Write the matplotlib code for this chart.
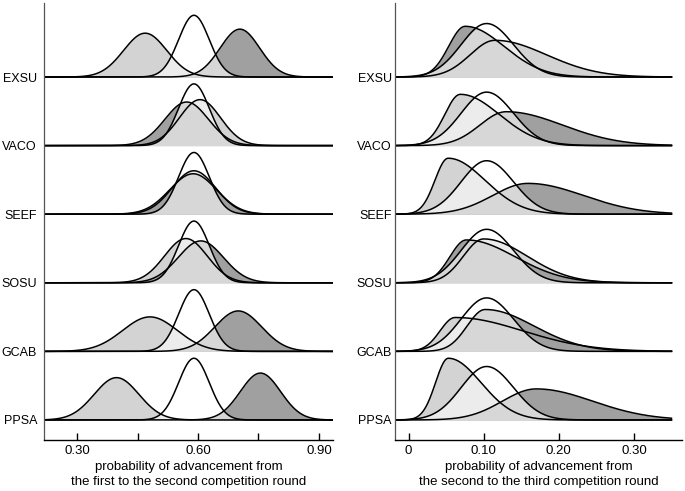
import math

import matplotlib
matplotlib.use("Agg")
import matplotlib.pyplot as plt
import numpy as np

plt.rcParams["font.family"] = ["Liberation Sans", "DejaVu Sans"]
plt.rcParams["font.size"] = 9.5

SITES = ["EXSU", "VACO", "SEEF", "SOSU", "GCAB", "PPSA"]

# first -> second round: normal densities (mean, sd) per site
R1_WHITE_MEAN = [0.59, 0.59, 0.59, 0.59, 0.59, 0.59]
R1_WHITE_SD = [0.038, 0.038, 0.038, 0.038, 0.038, 0.038]
R1_LIGHT_MEAN = [0.469, 0.605, 0.590, 0.570, 0.481, 0.398]
R1_LIGHT_SD = [0.0535, 0.051, 0.054, 0.053, 0.068, 0.0554]
R1_DARK_MEAN = [0.704, 0.572, 0.588, 0.607, 0.700, 0.755]
R1_DARK_SD = [0.049, 0.0538, 0.058, 0.056, 0.058, 0.050]

# second -> third round: skewed densities (mode, left spread, right spread)
R2_WHITE_MODE = [0.104, 0.104, 0.104, 0.104, 0.104, 0.104]
R2_WHITE_SL = [0.034, 0.034, 0.034, 0.034, 0.034, 0.034]
R2_WHITE_SR = [0.0357, 0.0357, 0.0357, 0.0357, 0.0357, 0.0357]
R2_LIGHT_MODE = [0.115, 0.069, 0.0528, 0.100, 0.062, 0.053]
R2_LIGHT_SL = [0.033, 0.0208, 0.0176, 0.027, 0.020, 0.017]
R2_LIGHT_SR = [0.0686, 0.0519, 0.049, 0.058, 0.090, 0.0434]
R2_DARK_MODE = [0.0755, 0.130, 0.159, 0.077, 0.102, 0.170]
R2_DARK_SL = [0.022, 0.035, 0.047, 0.022, 0.024, 0.045]
R2_DARK_SR = [0.0515, 0.075, 0.074, 0.065, 0.065, 0.075]

LIGHT = "#d3d3d3"
DARK = "#a0a0a0"


def normal_pdf(x, mean, sd):
    return np.exp(-0.5 * ((x - mean) / sd) ** 2) / (sd * math.sqrt(2 * math.pi))


def split_normal_pdf(x, mode, s_left, s_right):
    s = np.where(x < mode, s_left, s_right)
    return 2 / (math.sqrt(2 * math.pi) * (s_left + s_right)) * np.exp(-0.5 * ((x - mode) / s) ** 2)


def draw_panel(ax, x, pdf, white, light, dark, scale):
    n = len(SITES)
    for i in range(n):
        base = n - 1 - i
        y_light = base + pdf(x, *[p[i] for p in light]) * scale
        y_dark = base + pdf(x, *[p[i] for p in dark]) * scale
        y_white = base + pdf(x, *[p[i] for p in white]) * scale
        ax.fill_between(x, base, y_light, color=LIGHT, lw=0)
        ax.fill_between(x, base, y_dark, color=DARK, lw=0)
        ax.plot(x, y_light, color="black", lw=1.1)
        ax.plot(x, y_dark, color="black", lw=1.1)
        # white curve half-covers the others, so their lines turn grey inside it
        ax.fill_between(x, base, y_white, color="white", alpha=0.58, lw=0)
        ax.plot(x, y_white, color="black", lw=1.1)

    ax.set_ylim(-0.292, 6.079)
    ax.set_yticks(range(n))
    ax.set_yticklabels(SITES[::-1], fontsize=9)
    for s in ("top", "right"):
        ax.spines[s].set_visible(False)
    ax.spines["left"].set_color("#555555")
    ax.spines["left"].set_linewidth(0.9)
    ax.spines["bottom"].set_linewidth(1.0)
    ax.tick_params(axis="x", direction="in", length=5, width=1, pad=3.5)


fig = plt.figure(figsize=(6.85, 4.91), dpi=100)
ax1 = fig.add_axes([44 / 685, 51 / 491, 289 / 685, 437 / 491])
ax2 = fig.add_axes([395 / 685, 51 / 491, 287 / 685, 437 / 491])

x1 = np.linspace(0.218, 0.935, 700)
draw_panel(ax1, x1, normal_pdf,
           (R1_WHITE_MEAN, R1_WHITE_SD), (R1_LIGHT_MEAN, R1_LIGHT_SD),
           (R1_DARK_MEAN, R1_DARK_SD), 0.0857)
ax1.set_xlim(0.218, 0.935)
ax1.set_xticks([0.30, 0.45, 0.60, 0.75, 0.90])
ax1.set_xticklabels(["0.30", "", "0.60", "", "0.90"])
ax1.tick_params(axis="y", length=0, pad=5)
ax1.set_xlabel("probability of advancement from\nthe first to the second competition round",
               linespacing=1.3, labelpad=3)

x2 = np.linspace(-0.018, 0.35, 700)
draw_panel(ax2, x2, split_normal_pdf,
           (R2_WHITE_MODE, R2_WHITE_SL, R2_WHITE_SR),
           (R2_LIGHT_MODE, R2_LIGHT_SL, R2_LIGHT_SR),
           (R2_DARK_MODE, R2_DARK_SL, R2_DARK_SR), 0.0681)
ax2.set_xlim(-0.018, 0.364)
ax2.set_xticks([0, 0.10, 0.20, 0.30])
ax2.set_xticklabels(["0", "0.10", "0.20", "0.30"])
ax2.tick_params(axis="y", length=0, pad=2.2)
ax2.set_xlabel("probability of advancement from\nthe second to the third competition round",
               linespacing=1.3, labelpad=3)

fig.savefig("out.png", dpi=100)
